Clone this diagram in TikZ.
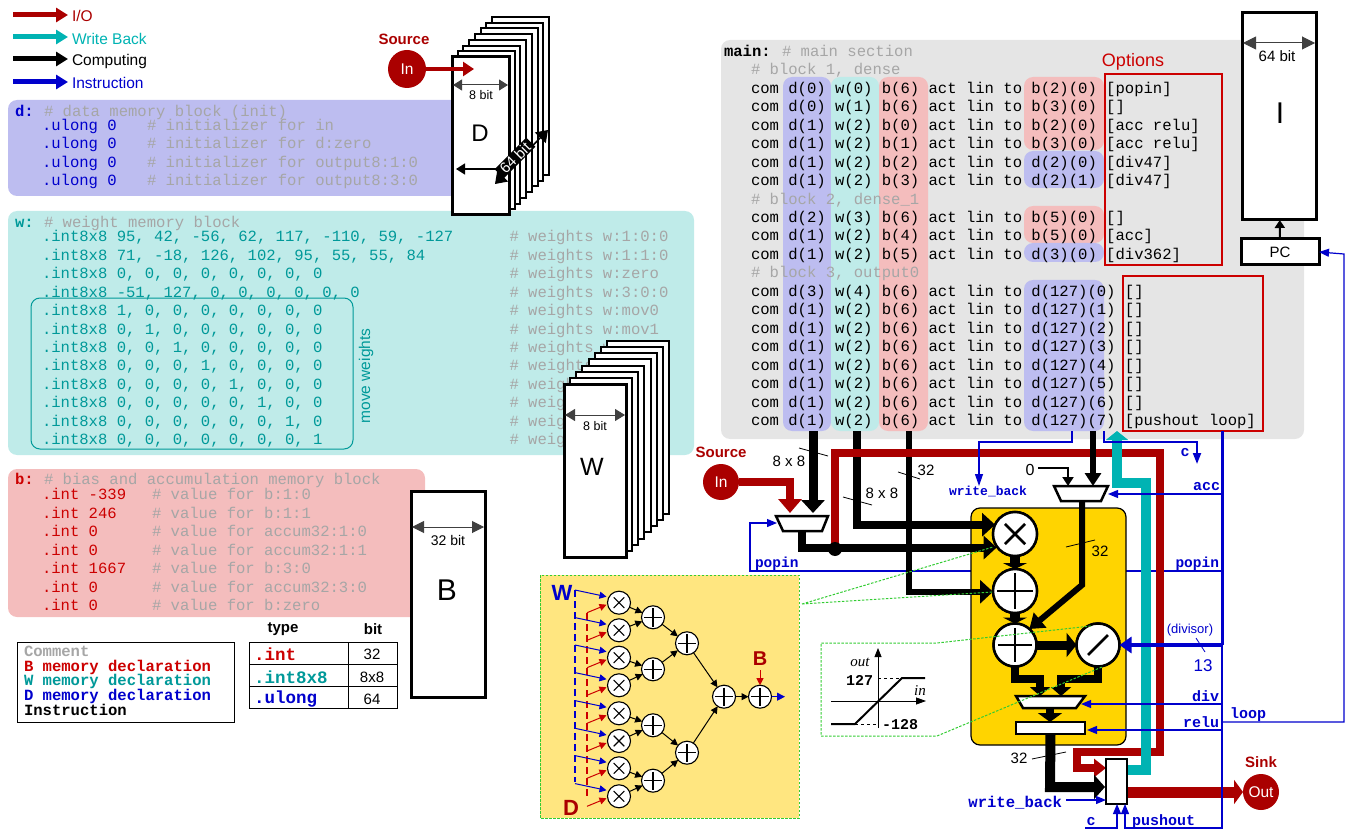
\documentclass[tikz,border=0pt]{standalone}
\usepackage{fontspec}
\setmainfont{Liberation Sans}
\setmonofont{Liberation Mono}
\newfontfamily\serfont{Liberation Serif}
\usetikzlibrary{arrows.meta,shapes.geometric,calc}
\definecolor{cD}{HTML}{0000CC}
\definecolor{cW}{HTML}{009999}
\definecolor{cB}{HTML}{CC0000}
\definecolor{cIO}{HTML}{AA0000}
\definecolor{cWB}{HTML}{00B3B3}
\definecolor{cIns}{HTML}{0000CC}
\definecolor{cCom}{HTML}{A6A6A6}
\definecolor{bgD}{HTML}{BDBDF0}
\definecolor{bgW}{HTML}{BFEBE9}
\definecolor{bgB}{HTML}{F4BDBD}
\definecolor{bgG}{HTML}{E5E5E5}
\definecolor{panel}{HTML}{FFE680}
\definecolor{gold}{HTML}{FFD400}
\definecolor{grn}{HTML}{33CC33}
\newcount\tc
\newcommand\cdfont{\ttfamily\frenchspacing\fontsize{15.58}{18}\selectfont}
\newcommand\cde[4]{\global\advance\tc by 1\relax\node[cd,text=#3] (n\the\tc) at (#1+2,#2+5.5) {#4};}
\newcommand\cdb[4]{\global\advance\tc by 1\relax\node[cd,text=#3,font=\cdfont\bfseries] (n\the\tc) at (#1+2,#2+5.5) {#4};}
\newcommand\tx[4][]{\global\advance\tc by 1\relax\node[lbl,#1] (n\the\tc) at (#2,#3) {#4};}
\tikzset{
  cd/.style={font=\cdfont,anchor=base west,inner sep=0pt,outer sep=0pt},
  lbl/.style={inner sep=0pt,outer sep=0pt},
  fs/.style={font=\fontsize{#1}{#1}\selectfont},
  fsb/.style={font=\bfseries\fontsize{#1}{#1}\selectfont},
  fm/.style={font=\ttfamily\bfseries\fontsize{#1}{#1}\selectfont},
  tipd/.style 2 args={-{Triangle[length=#1,width=#2]}},
  both/.style 2 args={{Triangle[length=#1,width=#2]}-{Triangle[length=#1,width=#2]}},
  legarrow/.style={line width=5pt,tipd={12pt}{14pt}},
  block/.style={rounded corners=9pt,draw=none},
  stack/.style={draw=black,fill=white,line width=2pt},
  membox/.style={draw=black,fill=white,line width=3pt,inner sep=0pt,outer sep=0pt},
  thin blue/.style={draw=cIns,line width=1.2pt,tipd={10pt}{8pt}},
  wire/.style={draw=black,line width=8pt,tipd={13pt}{23pt}},
  green line/.style={draw=grn,line width=1pt,dash pattern=on 2.5pt off 1.5pt},
  muxshape/.style={draw=black,fill=white,line width=2.5pt,line join=miter},
  opbase/.style={circle,draw=black,fill=white,inner sep=0pt,outer sep=0pt},
  mulop/.style 2 args={opbase,minimum size=#1,line width=#2,path picture={\draw[line width=#2]
     ($(path picture bounding box.center)!0.46!(path picture bounding box.north east)$)--($(path picture bounding box.center)!0.46!(path picture bounding box.south west)$)
     ($(path picture bounding box.center)!0.46!(path picture bounding box.north west)$)--($(path picture bounding box.center)!0.46!(path picture bounding box.south east)$);}},
  addop/.style 2 args={opbase,minimum size=#1,line width=#2,path picture={\draw[line width=#2]
     ($(path picture bounding box.center)!0.8!(path picture bounding box.north)$)--($(path picture bounding box.center)!0.8!(path picture bounding box.south)$)
     ($(path picture bounding box.center)!0.8!(path picture bounding box.west)$)--($(path picture bounding box.center)!0.8!(path picture bounding box.east)$);}},
  divop/.style 2 args={opbase,minimum size=#1,line width=#2,path picture={\draw[line width=#2]
     ($(path picture bounding box.center)!0.46!(path picture bounding box.north east)$)--($(path picture bounding box.center)!0.46!(path picture bounding box.south west)$);}},
  smallconn/.style={draw=black,line width=1pt,tipd={7pt}{7pt}},
}
\begin{document}
\begin{tikzpicture}[x=1pt,y=-1pt]
\useasboundingbox (0,0) rectangle (1350,829);
% legend arrows
\coordinate (la1) at (13,15); \coordinate (lb1) at (68,15);
\coordinate (la2) at (13,37); \coordinate (lb2) at (68,37);
\coordinate (la3) at (13,59); \coordinate (lb3) at (68,59);
\coordinate (la4) at (13,82); \coordinate (lb4) at (68,82);
\draw[legarrow,cIO] (la1)--(lb1);
\draw[legarrow,cWB] (la2)--(lb2);
\draw[legarrow,black] (la3)--(lb3);
\draw[legarrow,cIns] (la4)--(lb4);
\tx[fs=15.5,anchor=west,text=cIO]{72}{16}{I/O}
\tx[fs=15.5,anchor=west,text=cWB]{72}{39}{Write Back}
\tx[fs=15.5,anchor=west]{72}{61}{Computing}
\tx[fs=15.5,anchor=west,text=cIns]{72}{83}{Instruction}
% memory blocks
\fill[block,bgD] (8,100) rectangle (470,196);
\fill[block,bgW] (8,211) rectangle (694,455);
\fill[block,bgB] (8,469) rectangle (425,617);
% d block
\cdb{13}{111}{cD}{d:}
\cde{42}{111}{cCom}{\# data memory block (init)}
\cde{40}{125}{cD}{.ulong 0}
\cde{40}{143.5}{cD}{.ulong 0}
\cde{40}{162}{cD}{.ulong 0}
\cde{40}{180.5}{cD}{.ulong 0}
\cde{145}{125}{cCom}{\# initializer for in}
\cde{145}{143.5}{cCom}{\# initializer for d:zero}
\cde{145}{162}{cCom}{\# initializer for output8:1:0}
\cde{145}{180.5}{cCom}{\# initializer for output8:3:0}
% w block
\cdb{13}{222}{cW}{w:}
\cde{42}{222}{cCom}{\# weight memory block}
\cde{40}{236.5}{cW}{.int8x8 95, 42, -56, 62, 117, -110, 59, -127}
\cde{40}{255}{cW}{.int8x8 71, -18, 126, 102, 95, 55, 55, 84}
\cde{40}{273.4}{cW}{.int8x8 0, 0, 0, 0, 0, 0, 0, 0}
\cde{40}{291.8}{cW}{.int8x8 -51, 127, 0, 0, 0, 0, 0, 0}
\cde{40}{310.2}{cW}{.int8x8 1, 0, 0, 0, 0, 0, 0, 0}
\cde{40}{328.6}{cW}{.int8x8 0, 1, 0, 0, 0, 0, 0, 0}
\cde{40}{347}{cW}{.int8x8 0, 0, 1, 0, 0, 0, 0, 0}
\cde{40}{365.4}{cW}{.int8x8 0, 0, 0, 1, 0, 0, 0, 0}
\cde{40}{383.8}{cW}{.int8x8 0, 0, 0, 0, 1, 0, 0, 0}
\cde{40}{402.2}{cW}{.int8x8 0, 0, 0, 0, 0, 1, 0, 0}
\cde{40}{420.6}{cW}{.int8x8 0, 0, 0, 0, 0, 0, 1, 0}
\cde{40}{439}{cW}{.int8x8 0, 0, 0, 0, 0, 0, 0, 1}
\cde{507.5}{236.5}{cCom}{\# weights w:1:0:0}
\cde{507.5}{255}{cCom}{\# weights w:1:1:0}
\cde{507.5}{273.4}{cCom}{\# weights w:zero}
\cde{507.5}{291.8}{cCom}{\# weights w:3:0:0}
\cde{507.5}{310.2}{cCom}{\# weights w:mov0}
\cde{507.5}{328.6}{cCom}{\# weights w:mov1}
\cde{507.5}{347}{cCom}{\# weights w:mov2}
\cde{507.5}{365.4}{cCom}{\# weights w:mov3}
\cde{507.5}{383.8}{cCom}{\# weights w:mov4}
\cde{507.5}{402.2}{cCom}{\# weights w:mov5}
\cde{507.5}{420.6}{cCom}{\# weights w:mov6}
\cde{507.5}{439}{cCom}{\# weights w:mov7}
\draw[cW,line width=1pt,rounded corners=9pt] (31,298) rectangle (353,449);
\tx[fs=15.5,text=cW,rotate=90]{366}{376}{move weights}
% b block
\cdb{13}{479}{cB}{b:}
\cde{42}{479}{cCom}{\# bias and accumulation memory block}
\cde{40}{494}{cB}{.int -339}
\cde{40}{512.5}{cB}{.int 246}
\cde{40}{531}{cB}{.int 0}
\cde{40}{549.5}{cB}{.int 0}
\cde{40}{568}{cB}{.int 1667}
\cde{40}{586.5}{cB}{.int 0}
\cde{40}{605}{cB}{.int 0}
\cde{150}{494}{cCom}{\# value for b:1:0}
\cde{150}{512.5}{cCom}{\# value for b:1:1}
\cde{150}{531}{cCom}{\# value for accum32:1:0}
\cde{150}{549.5}{cCom}{\# value for accum32:1:1}
\cde{150}{568}{cCom}{\# value for b:3:0}
\cde{150}{586.5}{cCom}{\# value for accum32:3:0}
\cde{150}{605}{cCom}{\# value for b:zero}
% D stack
\foreach \k in {7,6,...,1} \draw[stack] ({452+5.7*\k},{57-5.7*\k}) rectangle ++(57,158);
\node[membox,minimum width=57pt,minimum height=158pt] (Dbox) at (480.5,136) {};
\tx[fs=24]{480}{133}{D}
\coordinate (d8a) at (453,85); \coordinate (d8b) at (508,85);
\draw[both={9pt}{11pt},line width=1pt,black!75] (d8a)--(d8b);
\tx[fs=12.5]{481}{95}{8 bit}
\coordinate (d64a) at (456,169); \coordinate (d64b) at (500,169);
\draw[tipd={9pt}{11pt},line width=1.5pt] (d64b)--(d64a);
\coordinate (d64c) at (495,184); \coordinate (d64d) at (548,130);
\draw[both={11pt}{15pt},line width=1.5pt] (d64c)--(d64d);
\tx[fs=15,text=white,fill=black,rotate=45,inner xsep=4pt,inner ysep=1pt]{515}{158}{64 bit}
% Source (top)
\node[circle,fill=cIO,minimum size=38pt,inner sep=0pt,outer sep=0pt,text=white,fs=15.5] (inA) at (407,69) {In};
\coordinate (inAt) at (474,69);
\draw[line width=4pt,cIO,tipd={11pt}{14pt}] (inA)--(inAt);
\tx[fsb=15,text=cIO]{404}{39}{Source}
% W stack
\foreach \k in {7,6,...,1} \draw[stack] ({564+6.15*\k},{384-6.15*\k}) rectangle ++(62,173);
\node[membox,minimum width=62pt,minimum height=173pt] (Wbox) at (595,470.5) {};
\tx[fs=25]{592}{467}{W}
\coordinate (w8a) at (565,415); \coordinate (w8b) at (625,415);
\draw[both={10pt}{12pt},line width=1pt,black!75] (w8a)--(w8b);
\tx[fs=12.5]{595}{426}{8 bit}
% B box
\node[membox,minimum width=74pt,minimum height=206pt] (Bbox) at (448,594) {};
\tx[fs=30]{447}{590}{B}
\coordinate (b8a) at (412,527); \coordinate (b8b) at (484,527);
\draw[both={12pt}{12pt},line width=1pt,black!75] (b8a)--(b8b);
\tx[fs=14]{448}{540}{32 bit}
% comment legend
\draw[black,line width=1pt,fill=white] (17,642) rectangle (234,722);
\cdb{22}{651}{cCom}{Comment}
\cdb{22}{665.5}{cB}{B memory declaration}
\cdb{22}{680.2}{cW}{W memory declaration}
\cdb{22}{695}{cD}{D memory declaration}
\cdb{22}{709.7}{black}{Instruction}
% type table
\draw[line width=1pt] (249,642) rectangle (397,708) (348,642)--(348,708) (249,664)--(397,664) (249,686)--(397,686);
\tx[fsb=15]{283}{629}{type}
\tx[fsb=15]{373}{629}{bit}
\tx[fm=17.5,text=cB,anchor=west]{254}{654}{.int}
\tx[fm=17.5,text=cW,anchor=west]{254}{677}{.int8x8}
\tx[fm=17.5,text=cD,anchor=west]{254}{699}{.ulong}
\tx[fs=15]{372}{654}{32}
\tx[fs=15]{372}{677}{8x8}
\tx[fs=15]{372}{699}{64}
% main section
\fill[block,bgG] (721,40) rectangle (1304,439);
\fill[block,bgD] (783,77) rectangle (831,431);
\fill[block,bgW] (831,77) rectangle (879,431);
\fill[block,bgB] (879,77) rectangle (928,431);
\fill[block,bgB] (1024,77) rectangle (1104,150);
\fill[block,bgD] (1024,151) rectangle (1104,188);
\fill[block,bgB] (1024,206) rectangle (1104,243);
\fill[block,bgD] (1024,243) rectangle (1104,262);
\fill[block,bgD] (1024,280) rectangle (1104,431);
\cdb{722}{51}{black}{main:}
\cde{780}{51}{cCom}{\# main section}
\cde{749}{69.45}{cCom}{\# block 1, dense}
\cde{749}{87.9}{black}{com d(0) w(0) b(6) act lin to b(2)(0) [popin]}
\cde{749}{106.35}{black}{com d(0) w(1) b(6) act lin to b(3)(0) []}
\cde{749}{124.8}{black}{com d(1) w(2) b(0) act lin to b(2)(0) [acc relu]}
\cde{749}{143.25}{black}{com d(1) w(2) b(1) act lin to b(3)(0) [acc relu]}
\cde{749}{161.7}{black}{com d(1) w(2) b(2) act lin to d(2)(0) [div47]}
\cde{749}{180.15}{black}{com d(1) w(2) b(3) act lin to d(2)(1) [div47]}
\cde{749}{198.6}{cCom}{\# block 2, dense\_1}
\cde{749}{217.05}{black}{com d(2) w(3) b(6) act lin to b(5)(0) []}
\cde{749}{235.5}{black}{com d(1) w(2) b(4) act lin to b(5)(0) [acc]}
\cde{749}{253.95}{black}{com d(1) w(2) b(5) act lin to d(3)(0) [div362]}
\cde{749}{272.4}{cCom}{\# block 3, output0}
\cde{749}{290.85}{black}{com d(3) w(4) b(6) act lin to d(127)(0) []}
\cde{749}{309.3}{black}{com d(1) w(2) b(6) act lin to d(127)(1) []}
\cde{749}{327.75}{black}{com d(1) w(2) b(6) act lin to d(127)(2) []}
\cde{749}{346.2}{black}{com d(1) w(2) b(6) act lin to d(127)(3) []}
\cde{749}{364.65}{black}{com d(1) w(2) b(6) act lin to d(127)(4) []}
\cde{749}{383.1}{black}{com d(1) w(2) b(6) act lin to d(127)(5) []}
\cde{749}{401.55}{black}{com d(1) w(2) b(6) act lin to d(127)(6) []}
\cde{749}{420}{black}{com d(1) w(2) b(6) act lin to d(127)(7) [pushout loop]}
\draw[cB,line width=1.2pt] (1105,74) rectangle (1222,265);
\draw[cB,line width=1.2pt] (1123,276) rectangle (1263,431);
\tx[fs=18,text=cB]{1133}{62}{Options}
% I and PC
\node[membox,minimum width=74pt,minimum height=207pt] (Ibox) at (1279,116.5) {};
\tx[fs=30]{1280}{113}{I}
\coordinate (i8a) at (1243,43); \coordinate (i8b) at (1315,43);
\draw[both={13pt}{13pt},line width=1pt,black!75] (i8a)--(i8b);
\tx[fs=15]{1277}{56}{64 bit}
\node[membox,minimum width=78pt,minimum height=26pt,fs=15] (PC) at (1280,252) {PC};
\draw[line width=2pt,tipd={8pt}{10pt}] (PC)--(Ibox);
% panel
\draw[fill=panel,green line] (540,575) rectangle (799,818);
\coordinate (Wv1) at (575,590); \coordinate (Wv2) at (575,782);
\coordinate (Dv1) at (587,613); \coordinate (Dv2) at (587,797);
\draw[cIns,line width=1.3pt,dash pattern=on 7pt off 4pt] (Wv1)--(Wv2);
\draw[cB,line width=1.2pt,dash pattern=on 7pt off 4pt] (Dv1)--(Dv2);
\tx[fsb=22,text=cD]{562}{593}{W}
\tx[fsb=22,text=cIO]{571}{808}{D}
\tx[fsb=20,text=cIO]{760}{659}{B}
\foreach \i/\yy in {1/602.7,2/630.3,3/657.7,4/685.3,5/713.3,6/741,7/768.3,8/796.3}{
  \node[mulop={23pt}{1.1pt}] (m\i) at (619,\yy) {};
  \coordinate (ws\i) at (575,\yy-12.7);
  \coordinate (ds\i) at (587,\yy+10);
  \draw[cIns,line width=1pt,tipd={7pt}{7pt}] (ws\i)--($(m\i.west)+(-1,-6)$);
  \draw[cB,line width=1pt,tipd={7pt}{7pt}] (ds\i)--($(m\i.west)+(-1,2)$);
}
\foreach \i/\yy in {1/617.3,2/669.3,3/725.3,4/780.7}
  \node[addop={23pt}{1.1pt}] (a\i) at (653,\yy) {};
\node[addop={23pt}{1.1pt}] (b1) at (687,643.3) {};
\node[addop={23pt}{1.1pt}] (b2) at (687,752.7) {};
\node[addop={23pt}{1.1pt}] (c1) at (724,696.7) {};
\node[addop={23pt}{1.1pt}] (e1) at (760,696.7) {};
\foreach \s/\t in {m1/a1,m2/a1,m3/a2,m4/a2,m5/a3,m6/a3,m7/a4,m8/a4,a1/b1,a2/b1,a3/b2,a4/b2,b1/c1,b2/c1,c1/e1}
  \draw[smallconn] (\s)--(\t);
\coordinate (eo) at (785,696.7); \coordinate (bb) at (760,670);
\draw[cIns,line width=1pt,tipd={8pt}{8pt}] (e1)--(eo);
\draw[cB,line width=1pt,tipd={7pt}{7pt}] (bb)--(e1);
% thin control lines behind the yellow block
\coordinate (busT) at (1222,431); \coordinate (busM) at (1222,645); \coordinate (busB) at (1222,829);
\coordinate (pop1) at (1222,571); \coordinate (pop2) at (750,571); \coordinate (pop3) at (750,523); \coordinate (pop4) at (777,523);
\draw[thin blue] (pop1)--(pop2)--(pop3)--(pop4);
% yellow block
\draw[fill=gold,line width=1.2pt,draw=black,rounded corners=9pt] (971,508) rectangle (1126,745);
\draw[muxshape] (776,516)--(828,516)--(822,531)--(783,531)--cycle;
\draw[muxshape] (1054,486)--(1108,486)--(1101,501)--(1061,501)--cycle;
\draw[muxshape] (1016,696)--(1085,696)--(1076,708)--(1023,708)--cycle;
\node[draw=black,fill=white,line width=2.5pt,minimum width=69pt,minimum height=12pt,inner sep=0pt,outer sep=0pt] (reg) at (1050.5,728) {};
\node[draw=black,fill=white,line width=2.5pt,minimum width=21pt,minimum height=45pt,inner sep=0pt,outer sep=0pt] (wb) at (1116.5,781.5) {};
\node[mulop={44pt}{2.5pt}] (mul) at (1015,534) {};
\node[addop={44pt}{2.5pt}] (add1) at (1015,591) {};
\node[addop={43pt}{2.5pt}] (add2) at (1015,645) {};
\node[divop={43pt}{2.5pt}] (divi) at (1098,645) {};
% black data wires
\coordinate (dA) at (813,431); \coordinate (dAt) at (813,513);
\draw[wire,line width=9pt,tipd={13pt}{23pt}] (dA)--(dAt);
\coordinate (wA) at (857,431);
\draw[wire] (wA)|-(mul.155);
\coordinate (bA) at (909,431);
\draw[wire,line width=6pt] (bA)|-(add1.182);
\coordinate (m1out) at (802,531); \coordinate (jun) at (835,549);
\draw[wire] (m1out)|-([xshift=-1pt]mul.218);
% red path
\coordinate (srcT) at (790,513); \coordinate (r1) at (835,453); \coordinate (r2) at (1160,453); \coordinate (r3) at (1160,752); \coordinate (r4) at (1077,752); \coordinate (r5) at (1077,768);
\node[circle,fill=cIO,minimum size=36pt,inner sep=0pt,outer sep=0pt,text=white,fs=15.5] (inB) at (721,482) {In};
\tx[fsb=15,text=cIO]{721}{452}{Source}
\draw[cIO,line width=8pt,tipd={14pt}{23pt}] (inB.east)-|(srcT);
\draw[cIO,line width=8pt,tipd={12pt}{18pt}] (jun)--(r1)--(r2)--(r3)--(r4)--(r5)--(wb.west |- r5);
\fill[black] (jun) circle (7);
% write back
\coordinate (wb1) at (1127,770); \coordinate (wb2) at (1146,770); \coordinate (wb3) at (1146,483); \coordinate (wb4) at (1117,483); \coordinate (wb5) at (1117,431);
\draw[cWB,line width=10pt,tipd={9pt}{22pt}] (wb1)--(wb2)--(wb3)--(wb4)--(wb5);
% sink
\node[circle,fill=cIO,minimum size=36pt,inner sep=0pt,outer sep=0pt,text=white,fs=15.5] (sink) at (1261,792) {Out};
\tx[fsb=15,text=cIO]{1261}{762}{Sink}
\draw[cIO,line width=11pt,tipd={9pt}{24pt}] (wb.east |- sink)--(sink.west);
% mux2 inputs
\coordinate (m2A) at (1093,431); \coordinate (m2At) at (1093,486);
\draw[line width=6pt,tipd={13pt}{16pt}] (m2A)--(m2At);
\tx[fs=16]{1030}{470}{0}
\coordinate (z1) at (1038,468); \coordinate (z2) at (1068,486);
\draw[line width=2pt,tipd={9pt}{11pt}] (z1)-|(z2);
\tx[fs=15]{789}{461}{8 x 8}
\tx[fs=15]{882}{493}{8 x 8}
\tx[fs=15]{926}{470}{32}
\tx[fs=15]{1100}{551}{32}
\tx[fs=15]{1019}{758}{32}
\draw[line width=.8pt] (799,448)--(828,456) (843,497)--(872,505) (898,472)--(920,479);
% mux2 output to add2
\coordinate (m2o) at (1082,501); \coordinate (m2k) at (1082,585);
\draw[line width=6pt,tipd={14pt}{19pt}] (m2o)--(m2k)--(add2.48);
\draw[line width=.8pt] (1066,547)--(1095,540);
% stubs
\draw[line width=10pt,tipd={6pt}{24pt}] (mul)--(add1.north);
\draw[line width=10pt,tipd={6pt}{24pt}] (add1)--(add2.north);
\draw[line width=9pt,tipd={10pt}{24pt}] (add2.east)--(divi.west);
\node[mulop={44pt}{2.5pt}] at (mul) {};
\node[addop={44pt}{2.5pt}] at (add1) {};
\node[addop={43pt}{2.5pt}] at (add2) {};
\node[divop={43pt}{2.5pt}] at (divi) {};
\coordinate (p1) at (1015,679); \coordinate (p2) at (1040,696);
\draw[line width=8pt,tipd={9pt}{20pt}] (add2.south)--(p1)-|(p2);
\coordinate (q1) at (1098,679); \coordinate (q2) at (1061,696);
\draw[line width=8pt,tipd={9pt}{20pt}] (divi.south)--(q1)-|(q2);
\coordinate (m3o) at (1050,708);
\draw[line width=8pt,tipd={9pt}{24pt}] (m3o)--(m3o |- reg.north);
% register output
\coordinate (o1) at (1050,787); \coordinate (o2) at (1105,787);
\draw[line width=10pt,tipd={11pt}{24pt}] (reg.south)--(o1)--(o2);
\draw[line width=.8pt] (1032,759)--(1066,752);
\node[draw=black,fill=white,line width=2.5pt,minimum width=21pt,minimum height=45pt,inner sep=0pt,outer sep=0pt] at (wb) {};
% blue instruction bus
\coordinate (cbA) at (1104,431); \coordinate (cb1) at (1104,442); \coordinate (cb2) at (1197,442); \coordinate (cb3) at (1197,464);
\draw[cIns,line width=2pt,tipd={11pt}{8pt}] (cbA)--(cb1)--(cb2)--(cb3);
\tx[fm=15,text=cD]{1185}{453}{c}
\coordinate (wbA) at (1072,431); \coordinate (wb6) at (1072,442); \coordinate (wb7) at (979,442); \coordinate (wb8) at (979,486);
\draw[thin blue,tipd={12pt}{8pt}] (wbA)--(wb6)--(wb7)--(wb8);
\tx[fm=13,text=cD]{988}{491}{write\_back}
\draw[cIns,line width=3pt] (busT)--(busM);
\draw[cIns,line width=1.2pt] (busM)--(busB);
\coordinate (acc) at (1222,494); \coordinate (accT) at (1108,494);
\draw[thin blue] (acc)--(accT);
\tx[fm=15,text=cD,anchor=east]{1220}{487}{acc}
\tx[fm=14.5,text=cD,anchor=east]{1219}{564}{popin}
\tx[fm=14.5,text=cD,anchor=west]{755}{564}{popin}
\coordinate (divsrc) at (1222,645);
\draw[cIns,line width=4pt,tipd={12pt}{16pt}] (divsrc)--(divi.east);
\tx[fs=13,text=cD]{1190}{630}{(divisor)}
\tx[fs=17,text=cD]{1203}{666}{13}
\draw[cIns,line width=.8pt] (1196,638)--(1205,652);
\coordinate (dv) at (1222,704); \coordinate (dvT) at (1081,704);
\draw[thin blue] (dv)--(dvT);
\tx[fm=15,text=cD,anchor=east]{1219}{696}{div}
\coordinate (rl) at (1222,730); \coordinate (rlT) at (1087,730);
\draw[thin blue] (rl)--(rlT);
\tx[fm=15,text=cD,anchor=east]{1219}{722}{relu}
\coordinate (lp) at (1222,722); \coordinate (lp2) at (1344,722); \coordinate (lp3) at (1344,254);
\draw[thin blue] (lp)--(lp2)--(lp3)--(PC.east);
\tx[fm=15,text=cD,anchor=west]{1230}{715}{loop}
% bottom controls
\coordinate (wbL) at (1066,800);
\draw[thin blue] (wbL)--(wb.west |- wbL);
\tx[fm=15.6,text=cD,anchor=east]{1062}{803}{write\_back}
\coordinate (cL) at (1085,828); \coordinate (cE) at (1117,828);
\draw[thin blue] (cL)--(cE)--(cE |- wb.south);
\tx[fm=15,text=cD]{1091}{822}{c}
\coordinate (pE) at (1125,828);
\draw[thin blue] (busB |- pE)--(pE)--(pE |- wb.south);
\tx[fm=15,text=cD,anchor=west]{1132}{822}{pushout}
% saturation plot
\coordinate (cA) at (802,604); \coordinate (cB1) at (993,547); \coordinate (cB2) at (993,592);
\draw[green line] (cA)--(cB1) (cA)--(cB2);
\coordinate (g1) at (821,643); \coordinate (g2) at (937,643); \coordinate (g3) at (1091,626);
\coordinate (g4) at (821,736); \coordinate (g5) at (937,736); \coordinate (g6) at (1102,667);
\draw[green line] (g3)--(g2)--(g1)--(g4)--(g5)--(g6);
\coordinate (ay1) at (878,728); \coordinate (ay2) at (878,648);
\coordinate (ax1) at (831,701); \coordinate (ax2) at (926,701);
\draw[line width=.8pt,tipd={9pt}{7pt}] (ay1)--(ay2);
\draw[line width=.8pt,tipd={10pt}{7pt}] (ax1)--(ax2);
\coordinate (s1) at (831,724); \coordinate (s2) at (855,724); \coordinate (s3) at (902,678); \coordinate (s4) at (925,678);
\draw[line width=2pt] (s1)--(s2)--(s3)--(s4);
\draw[line width=.8pt,dashed] (878,678)--(s3) (s2)--(878,724);
\tx[fm=15,anchor=east]{873}{680}{127}
\tx[fm=15,anchor=west]{882}{725}{-128}
\tx[font=\serfont\itshape\fontsize{15}{15}\selectfont]{860}{662}{out}
\tx[font=\serfont\itshape\fontsize{15}{15}\selectfont]{920}{691}{in}
\end{tikzpicture}
\end{document}
